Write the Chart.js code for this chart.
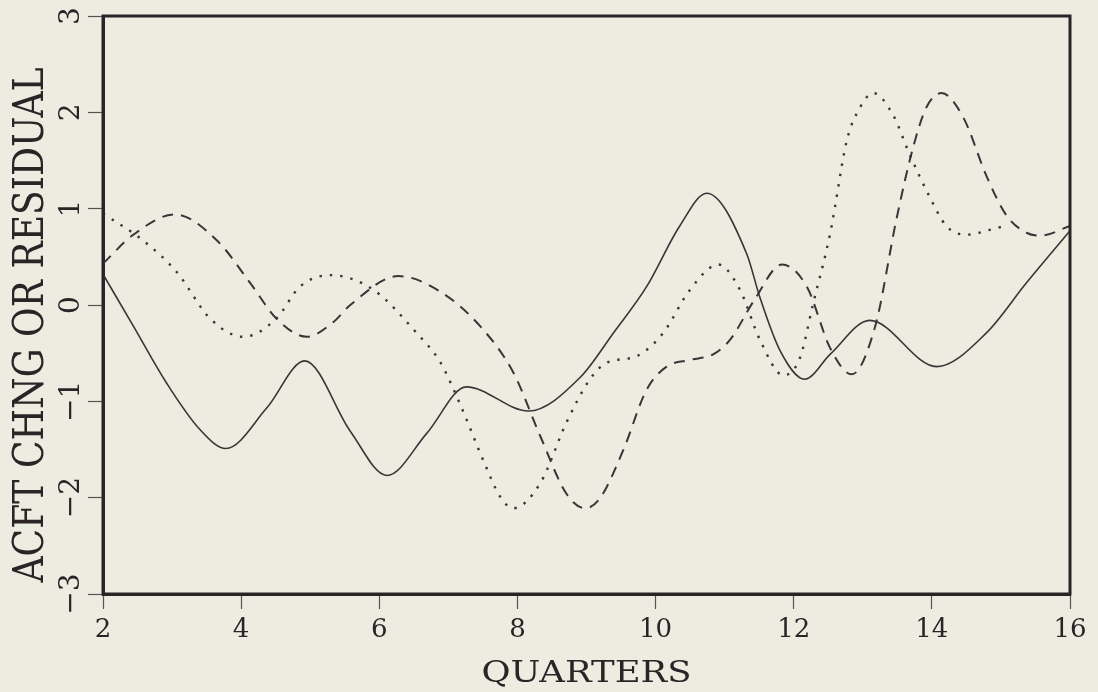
<!DOCTYPE html>
<html>
<head>
<meta charset="utf-8">
<script src="https://cdn.jsdelivr.net/npm/chart.js@4.4.1/dist/chart.umd.min.js"></script>
<style>
  html, body { margin: 0; padding: 0; background: #ecece1; }
  #wrap { width: 1098px; height: 692px; }
</style>
</head>
<body>
<div id="wrap"><canvas id="chart" width="1098" height="692"></canvas></div>
<script>
// values (quarter, value)
const solidQ = [2.0, 2.44, 2.92, 3.40, 3.78, 4.37, 4.92, 5.58, 6.11, 6.69, 7.26, 8.16, 8.91, 9.39, 9.87, 10.35, 10.74, 11.32, 11.51, 11.80, 12.16, 12.53, 13.10, 14.07, 14.79, 15.37, 16.0];
const solidV = [0.32, -0.22, -0.81, -1.29, -1.49, -1.07, -0.58, -1.31, -1.77, -1.33, -0.85, -1.10, -0.75, -0.29, 0.19, 0.82, 1.16, 0.53, 0.08, -0.47, -0.77, -0.51, -0.16, -0.64, -0.29, 0.23, 0.77];

const dashQ = [2.0, 2.44, 3.04, 3.65, 4.13, 4.51, 4.95, 5.33, 5.58, 6.28, 6.88, 7.46, 7.94, 8.33, 8.71, 8.98, 9.2, 9.53, 9.87, 10.16, 10.50, 10.84, 11.08, 11.42, 11.83, 12.19, 12.53, 12.84, 13.18, 13.49, 13.73, 13.92, 14.14, 14.46, 14.79, 15.08, 15.37, 15.57, 16.0];
const dashV = [0.43, 0.73, 0.94, 0.67, 0.23, -0.14, -0.33, -0.18, 0.0, 0.30, 0.14, -0.22, -0.70, -1.36, -1.96, -2.11, -2.0, -1.51, -0.88, -0.64, -0.57, -0.51, -0.36, 0.04, 0.42, 0.19, -0.45, -0.72, -0.22, 0.90, 1.64, 2.05, 2.20, 1.94, 1.34, 0.93, 0.75, 0.72, 0.82];

const dotQ = [2.0, 2.58, 3.07, 3.55, 4.03, 4.51, 4.85, 5.29, 5.91, 6.54, 6.88, 7.17, 7.51, 7.75, 7.94, 8.33, 8.71, 9.05, 9.29, 9.73, 10.11, 10.50, 10.91, 11.22, 11.51, 11.85, 12.09, 12.28, 12.53, 12.77, 12.96, 13.15, 13.44, 13.68, 13.97, 14.21, 14.50, 14.89, 15.05];
const dotV = [0.95, 0.67, 0.34, -0.14, -0.33, -0.14, 0.19, 0.31, 0.16, -0.29, -0.59, -1.03, -1.62, -1.99, -2.11, -1.85, -1.22, -0.77, -0.60, -0.53, -0.29, 0.16, 0.42, 0.16, -0.36, -0.73, -0.55, 0.01, 0.75, 1.71, 2.05, 2.20, 1.97, 1.56, 1.12, 0.82, 0.73, 0.79, 0.82];

const xTicks = [2, 4, 6, 8, 10, 12, 14, 16];
const yTicks = [-3, -2, -1, 0, 1, 2, 3];
const yTickLabels = ['\u22123', '\u22122', '\u22121', '0', '1', '2', '3'];
const xTitle = 'QUARTERS';
const yTitle = 'ACFT CHNG OR RESIDUAL';

const INK = '#2a2426';
const LINE = '#3a3537';
const FONT = '"DejaVu Serif", serif';

function toPoints(qs, vs) {
  return qs.map((q, i) => ({ x: q, y: vs[i] }));
}

// draws text centred on (cx, cy), optionally stretched to a target width
function drawText(ctx, text, cx, cy, rot, size, targetW) {
  ctx.save();
  ctx.font = size + 'px ' + FONT;
  const w = ctx.measureText(text).width;
  const sx = targetW ? targetW / w : 1;
  ctx.translate(cx, cy);
  ctx.rotate(rot);
  ctx.scale(sx, 1);
  ctx.fillStyle = INK;
  ctx.textAlign = 'center';
  ctx.textBaseline = 'alphabetic';
  ctx.fillText(text, 0, size * 0.729 / 2);
  ctx.restore();
}

const framePlugin = {
  id: 'frame',
  beforeDraw(chart) {
    const ctx = chart.ctx;
    ctx.save();
    ctx.fillStyle = '#ecece1';
    ctx.fillRect(0, 0, chart.width, chart.height);
    ctx.restore();
  },
  afterDraw(chart) {
    const ctx = chart.ctx;
    const a = chart.chartArea;
    ctx.save();
    ctx.strokeStyle = INK;
    ctx.lineWidth = 3;
    ctx.strokeRect(a.left, a.top, a.right - a.left, a.bottom - a.top);
    ctx.restore();

    // rotated y tick labels
    const ys = chart.scales.y;
    yTicks.forEach((v, i) => {
      drawText(ctx, yTickLabels[i], 69, ys.getPixelForValue(v), -Math.PI / 2, 28, null);
    });

    drawText(ctx, yTitle, 28, 325, -Math.PI / 2, 42, 515);
    drawText(ctx, xTitle, (a.left + a.right) / 2, 671, 0, 30, 210);
  }
};

new Chart(document.getElementById('chart'), {
  type: 'line',
  data: {
    datasets: [
      {
        label: 'solid',
        data: toPoints(solidQ, solidV),
        borderColor: LINE,
        borderWidth: 1.6,
        pointRadius: 0,
        cubicInterpolationMode: 'monotone',
        fill: false
      },
      {
        label: 'dashed',
        data: toPoints(dashQ, dashV),
        borderColor: LINE,
        borderWidth: 2,
        borderDash: [11, 8],
        pointRadius: 0,
        cubicInterpolationMode: 'monotone',
        fill: false
      },
      {
        label: 'dotted',
        data: toPoints(dotQ, dotV),
        borderColor: LINE,
        borderWidth: 2.4,
        borderDash: [2.4, 8],
        pointRadius: 0,
        cubicInterpolationMode: 'monotone',
        fill: false
      }
    ]
  },
  options: {
    responsive: false,
    animation: false,
    devicePixelRatio: 1,
    layout: { padding: { left: 0, right: 28, top: 16, bottom: 0 } },
    plugins: {
      legend: { display: false },
      tooltip: { enabled: false }
    },
    scales: {
      x: {
        type: 'linear',
        min: 2,
        max: 16,
        afterBuildTicks: (s) => { s.ticks = xTicks.map((v) => ({ value: v })); },
        afterFit: (s) => { s.height = 98; },
        grid: {
          drawOnChartArea: false,
          drawTicks: true,
          tickLength: 15,
          tickWidth: 1.2,
          tickColor: '#555'
        },
        border: { display: true, color: INK, width: 3 },
        ticks: {
          color: INK,
          font: { family: FONT, size: 26 },
          padding: 6,
          maxRotation: 0
        }
      },
      y: {
        type: 'linear',
        min: -3,
        max: 3,
        afterBuildTicks: (s) => { s.ticks = yTicks.map((v) => ({ value: v })); },
        afterFit: (s) => { s.width = 103; },
        grid: {
          drawOnChartArea: false,
          drawTicks: true,
          tickLength: 15,
          tickWidth: 1.2,
          tickColor: '#555'
        },
        border: { display: true, color: INK, width: 3 },
        ticks: { display: false }
      }
    }
  },
  plugins: [framePlugin]
});
</script>
</body>
</html>
